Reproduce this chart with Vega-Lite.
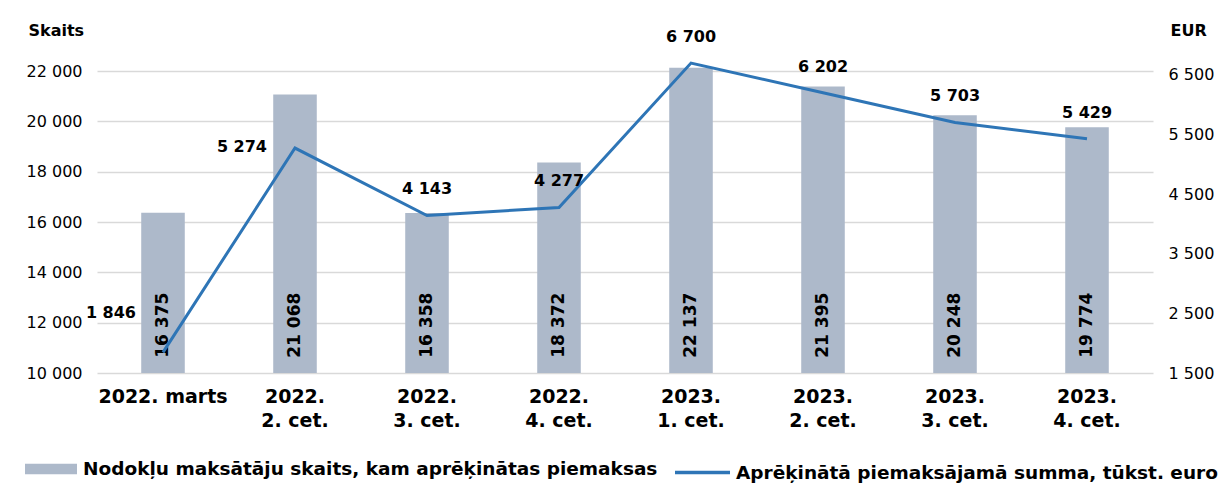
{
  "$schema": "https://vega.github.io/schema/vega-lite/v6.json",
  "autosize": "none",
  "width": 1056,
  "height": 332,
  "padding": {"left": 97, "top": 41, "right": 66, "bottom": 114},
  "background": "white",
  "config": {
    "locale": {"number": {"decimal": ",", "thousands": " ", "grouping": [3], "currency": ["", ""]}},
    "font": "DejaVu Sans",
    "view": {"stroke": null},
    "axis": {"labelFont": "DejaVu Sans", "titleFont": "DejaVu Sans"},
    "legend": {"padding": 0}
  },
  "data": {
    "values": [
      {"period": "2022. marts", "count": 16375, "amount": 1846},
      {"period": "2022.|2. cet.", "count": 21068, "amount": 5274},
      {"period": "2022.|3. cet.", "count": 16358, "amount": 4143},
      {"period": "2022.|4. cet.", "count": 18372, "amount": 4277},
      {"period": "2023.|1. cet.", "count": 22137, "amount": 6700},
      {"period": "2023.|2. cet.", "count": 21395, "amount": 6202},
      {"period": "2023.|3. cet.", "count": 20248, "amount": 5703},
      {"period": "2023.|4. cet.", "count": 19774, "amount": 5429}
    ]
  },
  "encoding": {
    "x": {
      "field": "period", "type": "nominal", "sort": null,
      "scale": {"paddingInner": 0.67, "paddingOuter": 0.335},
      "axis": {
        "title": null, "labelAngle": 0, "domain": false, "ticks": false,
        "labelExpr": "split(datum.value, '|')",
        "labelFontSize": 19, "labelFontWeight": "bold", "labelColor": "#000000",
        "labelPadding": 14, "labelLineHeight": 24, "labelBaseline": "top"
      }
    }
  },
  "layer": [
    {
      "layer": [
        {
          "mark": {"type": "bar", "color": "#adb9ca"},
          "encoding": {
            "y": {
              "field": "count", "type": "quantitative",
              "scale": {"domain": [10000, 23200], "zero": false, "nice": false},
              "axis": {
                "title": "Skaits", "titleAngle": 0, "titleAlign": "left", "titleX": -69, "titleY": -11,
                "titleBaseline": "middle", "titleFontSize": 16, "titleFontWeight": "bold", "titleColor": "#000000",
                "values": [10000, 12000, 14000, 16000, 18000, 20000, 22000],
                "labelExpr": "format(datum.value, ',.0f')", "labelFontSize": 16, "labelColor": "#000000", "labelPadding": 15,
                "ticks": false, "domain": false, "grid": true, "gridColor": "#d9d9d9", "gridWidth": 1.5
              }
            },
            "y2": {"datum": 10000},
            "fill": {
              "datum": "Nodokļu maksātāju skaits, kam aprēķinātas piemaksas",
              "scale": {"range": ["#adb9ca"]},
              "legend": {
                "title": null, "orient": "none", "legendX": -72, "legendY": 402,
                "symbolType": "M-1,-0.2H1V0.2H-1Z", "symbolSize": 2704,
                "symbolStrokeWidth": 0, "labelFontSize": 18.5, "labelFontWeight": "bold", "labelColor": "#000000",
                "labelLimit": 0, "labelOffset": 6
              }
            }
          }
        },
        {
          "mark": {"type": "text", "angle": 270, "fontSize": 17, "fontWeight": "bold", "color": "#000000", "baseline": "middle", "align": "center"},
          "encoding": {
            "y": {"datum": 11900, "type": "quantitative"},
            "text": {"field": "count", "type": "quantitative", "format": ","}
          }
        }
      ]
    },
    {
      "layer": [
        {
          "mark": {"type": "line", "strokeWidth": 3},
          "encoding": {
            "y": {
              "field": "amount", "type": "quantitative",
              "scale": {"domain": [1500, 7070], "zero": false, "nice": false},
              "axis": {
                "orient": "right",
                "title": "EUR", "titleAngle": 0, "titleAlign": "left", "titleX": 17, "titleY": -11,
                "titleBaseline": "middle", "titleFontSize": 16, "titleFontWeight": "bold", "titleColor": "#000000",
                "values": [1500, 2500, 3500, 4500, 5500, 6500],
                "labelExpr": "format(datum.value, ',.0f')", "labelFontSize": 16, "labelColor": "#000000", "labelPadding": 15,
                "ticks": false, "domain": false, "grid": false
              }
            },
            "stroke": {
              "datum": "Aprēķinātā piemaksājamā summa, tūkst. euro",
              "scale": {"range": ["#2e75b6"]},
              "legend": {
                "title": null, "orient": "none", "legendX": 576, "legendY": 402,
                "symbolType": "stroke", "symbolSize": 3025,
                "symbolStrokeWidth": 3.5, "labelFontSize": 18.5, "labelFontWeight": "bold", "labelColor": "#000000",
                "labelLimit": 0, "labelOffset": 4
              }
            }
          }
        },
        {
          "transform": [{"filter": "datum.amount != 1846 && datum.amount != 5274"}],
          "mark": {"type": "text", "fontSize": 16, "fontWeight": "bold", "color": "#000000", "dy": -26, "baseline": "middle"},
          "encoding": {
            "y": {"field": "amount", "type": "quantitative"},
            "text": {"field": "amount", "type": "quantitative", "format": ","}
          }
        },
        {
          "transform": [{"filter": "datum.amount == 5274"}],
          "mark": {"type": "text", "fontSize": 16, "fontWeight": "bold", "color": "#000000", "align": "right", "dx": -28, "dy": -1, "baseline": "middle"},
          "encoding": {
            "y": {"field": "amount", "type": "quantitative"},
            "text": {"field": "amount", "type": "quantitative", "format": ","}
          }
        },
        {
          "transform": [{"filter": "datum.amount == 1846"}],
          "mark": {"type": "text", "fontSize": 16, "fontWeight": "bold", "color": "#000000", "align": "right", "dx": -27, "dy": -39, "baseline": "middle"},
          "encoding": {
            "y": {"field": "amount", "type": "quantitative"},
            "text": {"field": "amount", "type": "quantitative", "format": ","}
          }
        }
      ]
    }
  ],
  "resolve": {"scale": {"y": "independent", "fill": "independent", "stroke": "independent"}}
}
